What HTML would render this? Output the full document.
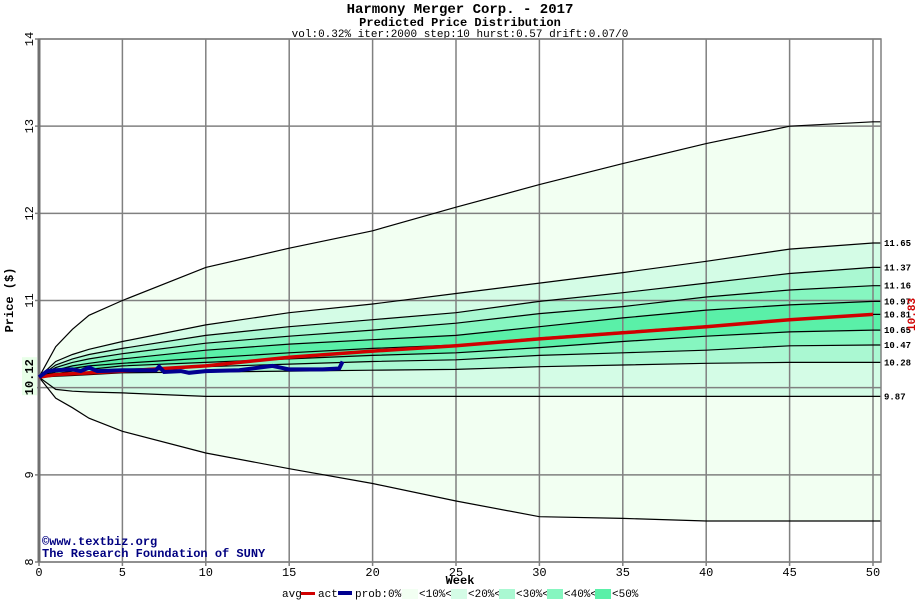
<!DOCTYPE html>
<html><head><meta charset="utf-8"><style>
body{margin:0;background:#fff;}
svg{display:block;font-family:"Liberation Mono",monospace;}
</style></head><body>
<svg id="c" width="920" height="600" xmlns="http://www.w3.org/2000/svg">
<text x="460" y="13" text-anchor="middle" font-size="14" font-weight="bold">Harmony Merger Corp. - 2017</text>
<text x="460" y="26" text-anchor="middle" font-size="12" font-weight="bold">Predicted Price Distribution</text>
<text x="460" y="37" text-anchor="middle" font-size="11">vol:0.32% iter:2000 step:10 hurst:0.57 drift:0.07/0</text>
<g id="plot"></g>
<text x="13" y="300" transform="rotate(-90 13 300)" text-anchor="middle" font-size="12" font-weight="bold">Price ($)</text>
<text x="460" y="584" text-anchor="middle" font-size="12" font-weight="bold">Week</text>
<text x="42" y="545" font-size="12" font-weight="bold" fill="#000080">©www.textbiz.org</text>
<text x="42" y="557" font-size="12" font-weight="bold" fill="#000080">The Research Foundation of SUNY</text>
<g id="legend" font-size="11">
<text x="282" y="597">avg</text>
<rect x="301" y="592" width="14" height="3" fill="#d00000"/>
<text x="318" y="597">act</text>
<rect x="338" y="591" width="14" height="4" fill="#000090"/>
<text x="355" y="597">prob:0%&lt;</text>
<rect x="402" y="589" width="16" height="10" fill="#f2fff2"/>
<text x="419" y="597">&lt;10%&lt;</text>
<rect x="451" y="589" width="16" height="10" fill="#d4fce6"/>
<text x="468" y="597">&lt;20%&lt;</text>
<rect x="499" y="589" width="16" height="10" fill="#aaf8d2"/>
<text x="516" y="597">&lt;30%&lt;</text>
<rect x="547" y="589" width="16" height="10" fill="#86f6c0"/>
<text x="564" y="597">&lt;40%&lt;</text>
<rect x="595" y="589" width="16" height="10" fill="#5af0a8"/>
<text x="612" y="597">&lt;50%</text>
</g>
</svg>
<script>
const weeks=[0,1,2,3,5,10,15,20,25,30,35,40,45,50];
const upperOuter=[10.12,10.47,10.67,10.83,11.0,11.38,11.6,11.8,12.07,12.33,12.57,12.8,13.0,13.05];
const lowerOuter=[10.12,9.88,9.77,9.65,9.5,9.25,9.07,8.9,8.7,8.52,8.5,8.47,8.47,8.47];
const p1165=[10.12,10.30,10.38,10.44,10.53,10.72,10.86,10.96,11.08,11.20,11.32,11.45,11.59,11.66];
const p1137=[10.12,10.26,10.33,10.38,10.45,10.60,10.70,10.78,10.86,10.99,11.09,11.20,11.31,11.38];
const p1116=[10.12,10.23,10.29,10.33,10.39,10.51,10.59,10.66,10.74,10.85,10.93,11.04,11.12,11.17];
const p1097=[10.12,10.20,10.25,10.28,10.33,10.43,10.50,10.55,10.60,10.70,10.80,10.89,10.95,10.99];
const p1081=[10.12,10.18,10.22,10.25,10.28,10.34,10.40,10.45,10.49,10.57,10.64,10.71,10.78,10.84];
const p1065=[10.12,10.16,10.19,10.21,10.25,10.29,10.33,10.37,10.40,10.46,10.53,10.59,10.64,10.66];
const p1047=[10.12,10.14,10.16,10.18,10.21,10.24,10.27,10.30,10.32,10.37,10.40,10.43,10.48,10.49];
const p1028=[10.12,10.13,10.14,10.15,10.17,10.18,10.19,10.20,10.21,10.24,10.26,10.28,10.29,10.29];
const p987=[10.12,9.98,9.96,9.95,9.94,9.90,9.90,9.90,9.90,9.90,9.90,9.90,9.90,9.90];
const endLabels=["11.65","11.37","11.16","10.97","10.81","10.65","10.47","10.28","9.87"];
const avgWeeks=[0,1,5,10,15,20,25,30,35,40,45,50];
const avgVals=[10.12,10.15,10.19,10.25,10.35,10.42,10.48,10.56,10.63,10.70,10.78,10.84];
const actWeeks=[0,0.5,1,2,2.5,3,3.5,5,7,7.2,7.5,8.5,9,10,12,14,15,17,18,18.2];
const actVals=[10.12,10.19,10.20,10.21,10.19,10.23,10.19,10.20,10.20,10.24,10.18,10.19,10.17,10.19,10.20,10.25,10.21,10.21,10.22,10.30];
const yTicks=[8,9,10,11,12,13,14];
const xTicks=[0,5,10,15,20,25,30,35,40,45,50];
const NS="http://www.w3.org/2000/svg";
const X0=39,X1=881,Y0=39,Y1=562;
const xs=w=>X0+w*(873-39)/50;
const ys=v=>Y1-(v-8)*(Y1-Y0)/6;
const g=document.getElementById('plot');
function mk(t,a,parent){const e=document.createElementNS(NS,t);for(const k in a)e.setAttribute(k,a[k]);(parent||g).appendChild(e);return e;}
function pts(ws,vs){return ws.map((w,i)=>xs(w).toFixed(1)+','+ys(vs[i]).toFixed(1));}
function band(up,lo,col,name){
  const ptsArr=pts(weeks,up).concat(pts(weeks,lo).reverse());
  ptsArr.splice(weeks.length,0,X1+','+ys(up[up.length-1]).toFixed(1),X1+','+ys(lo[lo.length-1]).toFixed(1));
  const p=mk('polygon',{points:ptsArr.join(' '),fill:col});
  
  
}
const bg=mk('rect',{x:X0,y:Y0,width:X1-X0,height:Y1-Y0,fill:'#fff'});


band(upperOuter,lowerOuter,'#f2fff2','band-0-10');
band(p1165,p987,'#d4fce6','band-10-20');
band(p1137,p1028,'#aaf8d2','band-20-30');
band(p1116,p1047,'#86f6c0','band-30-40');
band(p1097,p1065,'#5af0a8','band-40-50');
xTicks.forEach(t=>{
  const l=mk('line',{x1:xs(t),x2:xs(t),y1:Y0,y2:Y1+4,stroke:'#808080','stroke-width':1.5});
  
  
  const tx=mk('text',{x:xs(t),y:Y1+14,'text-anchor':'middle','font-size':12});
  tx.textContent=t;
  
  
});
yTicks.forEach(t=>{
  const l=mk('line',{x1:X0-4,x2:X1,y1:ys(t),y2:ys(t),stroke:'#808080','stroke-width':1.5});
  
  
  if(t===10)return;
  const tx=mk('text',{x:33,y:ys(t),'text-anchor':'middle','font-size':12,transform:'rotate(-90 33 '+ys(t)+')'});
  tx.textContent=t;
  
  
});
[upperOuter,p1165,p1137,p1116,p1097,p1081,p1065,p1047,p1028,p987,lowerOuter].forEach((s,i)=>{
  const pp=pts(weeks,s);pp.push(X1+','+ys(s[s.length-1]).toFixed(1));
  const l=mk('polyline',{points:pp.join(' '),fill:'none',stroke:'#000','stroke-width':1.2});
  
  
});
[p1165,p1137,p1116,p1097,p1081,p1065,p1047,p1028,p987].forEach((s,i)=>{
  const tx=mk('text',{x:884,y:ys(s[s.length-1])+3,'font-size':9,'font-weight':'bold'});
  tx.textContent=endLabels[i];
  
  
});
const bd=mk('rect',{x:X0,y:Y0,width:X1-X0,height:Y1-Y0,fill:'none',stroke:'#808080','stroke-width':1.5});


const ax=mk('line',{x1:X0,x2:X0,y1:Y0,y2:Y1,stroke:'#707070','stroke-width':3});


const av=mk('polyline',{points:pts(avgWeeks,avgVals).join(' '),fill:'none',stroke:'#d00000','stroke-width':3.5});


const ac=mk('polyline',{points:pts(actWeeks,actVals).join(' '),fill:'none',stroke:'#000090','stroke-width':4});


const sy=ys(actVals[0]);
const sb=mk('rect',{x:22,y:sy-20,width:15,height:38,fill:'#e8ffe8'});


const st=mk('text',{x:33,y:sy,'text-anchor':'middle','font-size':12,'font-weight':'bold',transform:'rotate(-90 33 '+sy+')'});
st.textContent=actVals[0].toFixed(2);


const ey=ys(avgVals[avgVals.length-1]);
const et=mk('text',{x:915,y:ey,'text-anchor':'middle','font-size':11,'font-weight':'bold',fill:'#d00000',transform:'rotate(-90 915 '+ey+')'});
et.textContent="10.83";


</script>
</body></html>
